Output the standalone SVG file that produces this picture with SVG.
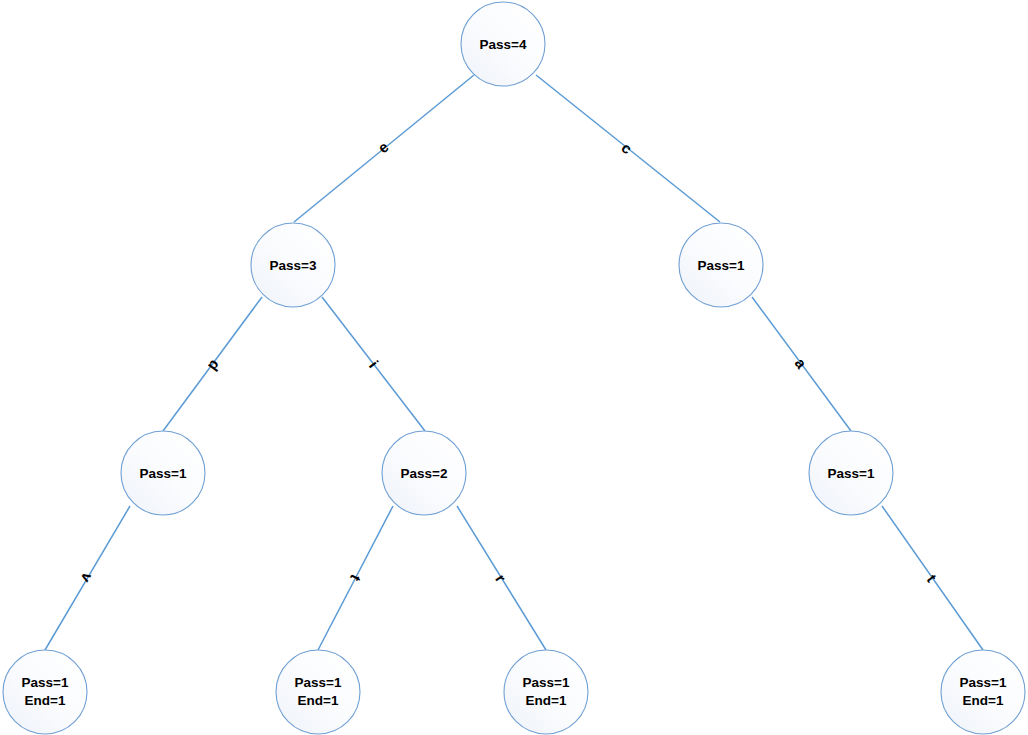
<svg xmlns="http://www.w3.org/2000/svg" width="1028" height="735" viewBox="0 0 1028 735">
<defs>
<linearGradient id="nodeFill" x1="1" y1="0" x2="0" y2="1">
<stop offset="0" stop-color="#ffffff"/>
<stop offset="0.5" stop-color="#fbfcfe"/>
<stop offset="1" stop-color="#eef2f9"/>
</linearGradient>
<style>
.node circle{fill:url(#nodeFill);stroke:#6f9fd3;stroke-width:1.1}
.node text{font-family:"Liberation Sans",Arial,sans-serif;font-weight:bold;font-size:13.5px;fill:#000;text-anchor:middle}
.edge{stroke:#5b9bd5;stroke-width:1.5;fill:none}
.lbl{font-family:"Liberation Sans",Arial,sans-serif;font-weight:bold;font-size:15px;fill:#000;text-anchor:middle;dominant-baseline:central}
</style>
</defs>
<rect width="1028" height="735" fill="#ffffff"/>
<g id="connectors">
<line class="edge" x1="474" y1="75" x2="294" y2="222"/>
<line class="edge" x1="536" y1="75" x2="720" y2="222"/>
<line class="edge" x1="262" y1="297" x2="163" y2="431"/>
<line class="edge" x1="322" y1="297" x2="425" y2="431"/>
<line class="edge" x1="752" y1="297" x2="851" y2="431"/>
<line class="edge" x1="130" y1="506" x2="45" y2="650"/>
<line class="edge" x1="393" y1="506" x2="318" y2="650"/>
<line class="edge" x1="457" y1="506" x2="546" y2="650"/>
<line class="edge" x1="882" y1="506" x2="983" y2="650"/>
<text class="lbl" x="383" y="147" transform="rotate(-38.85 383 147)">e</text>
<text class="lbl" x="627" y="148" transform="rotate(38.24 627 148)">c</text>
<text class="lbl" x="212" y="364" transform="rotate(-53.54 212 364)">p</text>
<text class="lbl" x="374" y="364" transform="rotate(52.45 374 364)">i</text>
<text class="lbl" x="801" y="363" transform="rotate(53.54 801 363)">a</text>
<text class="lbl" x="87" y="578" transform="rotate(120.73 87 578)">v</text>
<text class="lbl" x="356" y="578" transform="rotate(117.68 356 578)">t</text>
<text class="lbl" x="501" y="578" transform="rotate(58.1 501 578)">r</text>
<text class="lbl" x="932" y="578" transform="rotate(54.77 932 578)">t</text>
</g>
<g id="n_root" class="node"><circle cx="503" cy="44" r="42"/><text x="503" y="49">Pass=4</text></g>
<g id="n_e" class="node"><circle cx="293" cy="265" r="42"/><text x="293" y="270">Pass=3</text></g>
<g id="n_c" class="node"><circle cx="721" cy="265" r="42"/><text x="721" y="270">Pass=1</text></g>
<g id="n_ep" class="node"><circle cx="163" cy="473" r="42"/><text x="163" y="478">Pass=1</text></g>
<g id="n_ei" class="node"><circle cx="424" cy="473" r="42"/><text x="424" y="478">Pass=2</text></g>
<g id="n_ca" class="node"><circle cx="851" cy="473" r="42"/><text x="851" y="478">Pass=1</text></g>
<g id="n_epv" class="node"><circle cx="45" cy="692" r="42"/><text x="45" y="687">Pass=1</text><text x="45" y="705">End=1</text></g>
<g id="n_eit" class="node"><circle cx="318" cy="692" r="42"/><text x="318" y="687">Pass=1</text><text x="318" y="705">End=1</text></g>
<g id="n_eir" class="node"><circle cx="546" cy="692" r="42"/><text x="546" y="687">Pass=1</text><text x="546" y="705">End=1</text></g>
<g id="n_cat" class="node"><circle cx="983" cy="692" r="42"/><text x="983" y="687">Pass=1</text><text x="983" y="705">End=1</text></g>
</svg>
